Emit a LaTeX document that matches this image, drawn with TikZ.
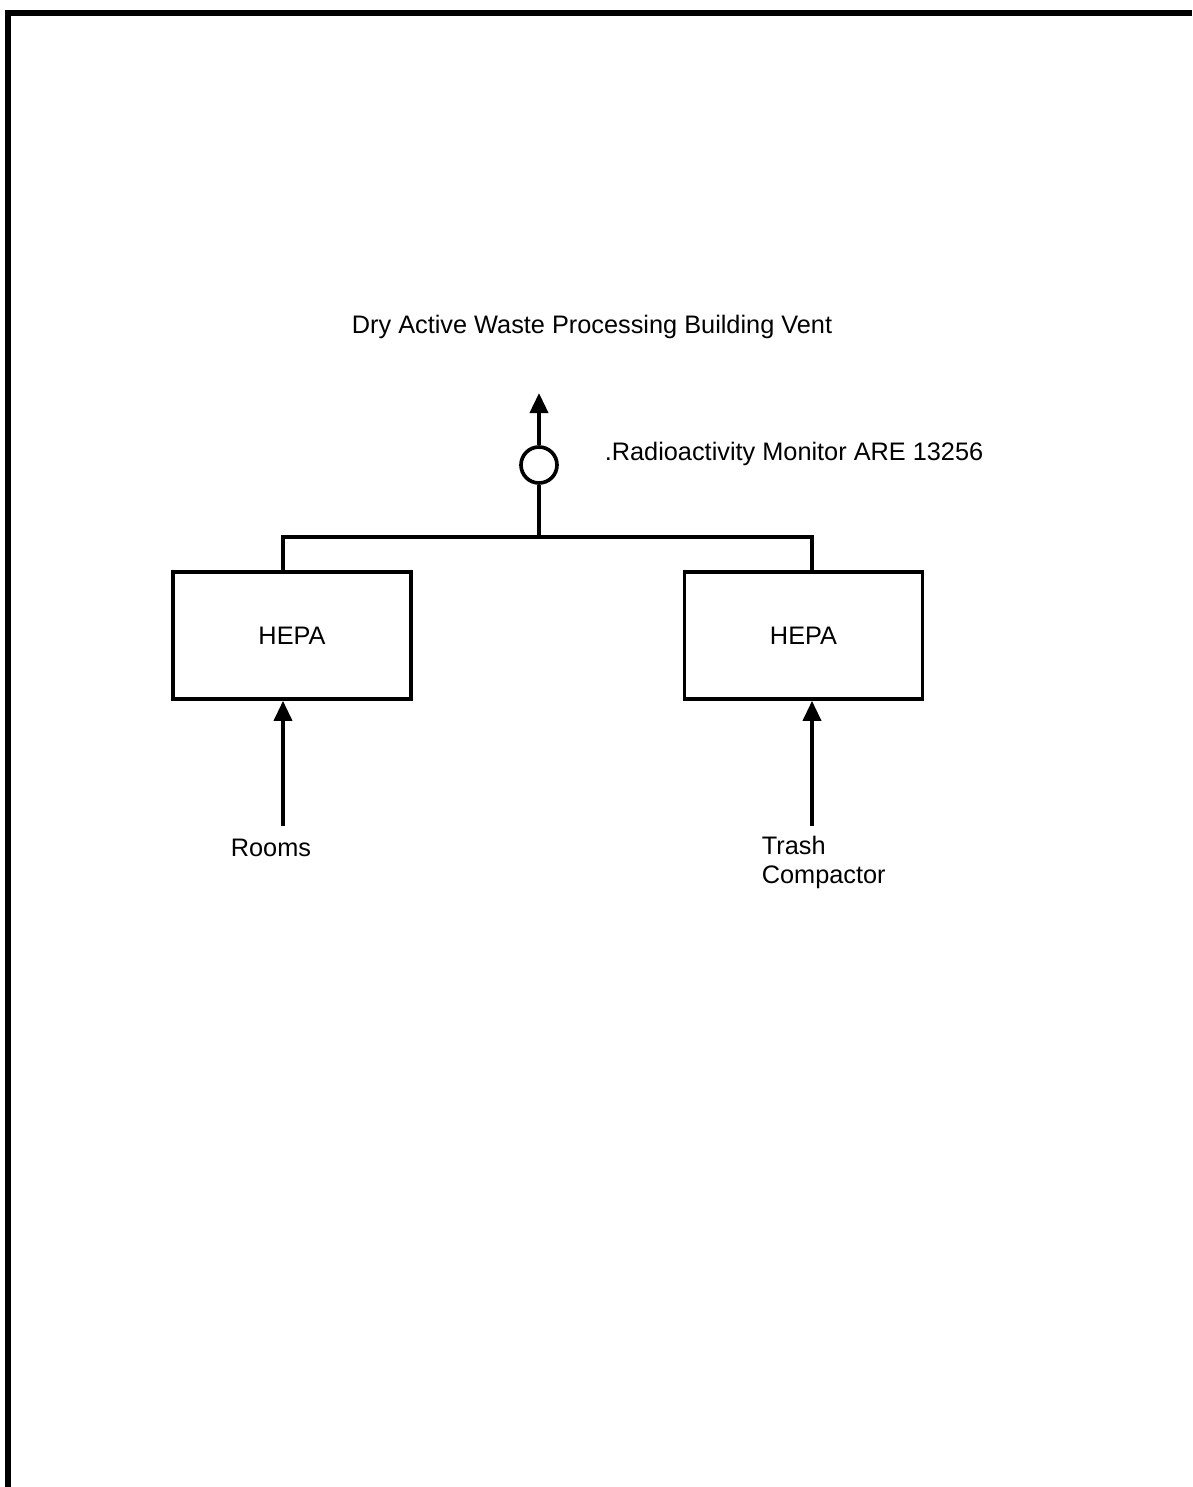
\documentclass[tikz,border=0pt]{standalone}
\usepackage{fontspec}
\setmainfont{Liberation Sans}
\usepackage{tikz}
\usetikzlibrary{arrows.meta, positioning}

\begin{document}
\begin{tikzpicture}[x=0.025cm, y=-0.025cm, line width=2.6pt,
		font=\fontsize{18}{20.6}\selectfont,
		filtre/.style={draw, minimum width=5.95cm, minimum height=3.175cm, inner sep=0pt},
		moniteur/.style={draw, circle, minimum size=0.9cm, inner sep=0pt},
		fleche/.style={-{Triangle[length=0.5cm, width=0.45cm]}},
		etiquette/.style={inner sep=0pt}]
	\useasboundingbox (0,0) rectangle (1192,1487);
	% cadre (bords gauche et haut)
	\draw[line width=3.6pt] (8,1487) -- (8,13) -- (1192,13);
	% evacuation
	\node[etiquette] (titre) at (592,327) {Dry Active Waste Processing Building Vent};
	\coordinate (sortie) at (539,393);
	\node[moniteur] (moniteur) at (539,465) {};
	\node[etiquette, anchor=west] (nommoniteur) at (603,454) {.Radioactivity Monitor ARE 13256};
	\draw[fleche] (moniteur) -- (sortie);
	% collecteur
	\coordinate (collecteur) at (539,537);
	\coordinate (collecteurG) at (283,537);
	\coordinate (collecteurD) at (812,537);
	\node[filtre] (hepaG) at (292,635.5) {HEPA};
	\node[filtre] (hepaD) at (803.5,635.5) {HEPA};
	\draw (hepaG.north -| collecteurG) -- (collecteurG) -- (collecteurD) -- (hepaD.north -| collecteurD);
	\draw (collecteur) -- (moniteur);
	% entrees
	\coordinate (entreeG) at (283,826);
	\coordinate (entreeD) at (812,826);
	\node[etiquette, anchor=west] (pieces) at (229,848) {Rooms};
	\node[etiquette, anchor=west, align=left] (compacteur) at (760,862) {Trash\\Compactor};
	\draw[fleche] (entreeG) -- (hepaG.south -| entreeG);
	\draw[fleche] (entreeD) -- (hepaD.south -| entreeD);
\end{tikzpicture}
\end{document}
